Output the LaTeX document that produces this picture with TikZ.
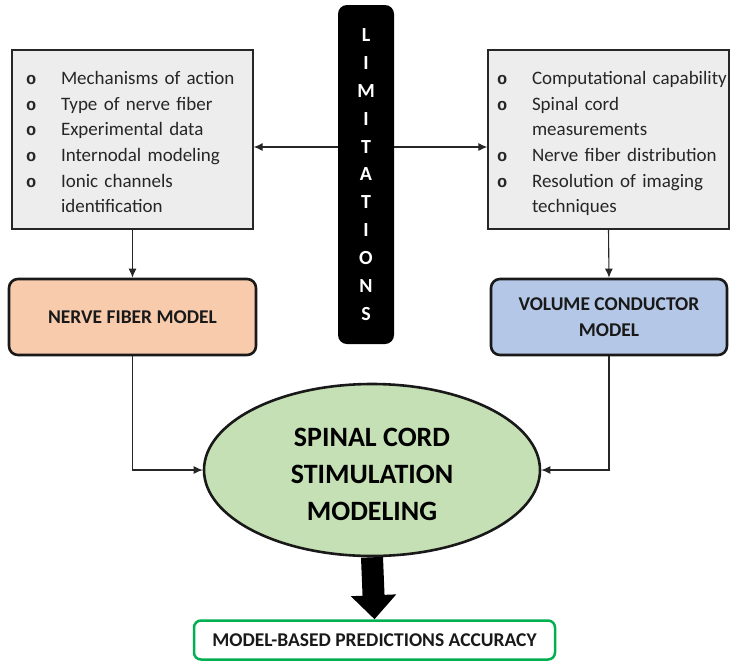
\documentclass[tikz,border=0pt]{standalone}
\usepackage{fontspec}
\setmainfont{Carlito}
\newfontfamily\bulfont{Liberation Mono}
\usetikzlibrary{shapes.geometric,arrows.meta}

\definecolor{listgray}{HTML}{EDEDED}
\definecolor{fiberorange}{HTML}{F8CBAD}
\definecolor{conductorblue}{HTML}{B4C7E7}
\definecolor{scsgreen}{HTML}{C5E0B4}
\definecolor{accgreen}{HTML}{00B050}

\newcommand{\bul}{{\bulfont\bfseries\fontsize{17}{17}\selectfont o}}

\tikzset{
  listbox/.style={draw=black!85, line width=1.3pt, fill=listgray, text=black!85,
    minimum width=241pt, minimum height=179pt, inner ysep=0pt, align=left,
    font=\fontsize{19}{25.7}\selectfont},
  modelbox/.style={draw=black!90, line width=2.6pt, rounded corners=9pt,
    minimum height=76pt, align=center, text=black!90,
    font=\bfseries\fontsize{19.5}{26}\selectfont},
  conn/.style={black!85, line width=1.1pt, -{Latex[length=9pt,width=8pt]}}
}

\begin{document}
\begin{tikzpicture}[x=1pt,y=-1pt]
    \useasboundingbox (0,0) rectangle (730,662);

    \node (listL) at (132.5,139.5) [listbox, inner xsep=14pt, text width=213pt] {%
      \begin{tabular}{@{}p{35pt}@{}l@{}}
        \bul & \rule{0pt}{26pt}Mechanisms of action\\
        \bul & Type of nerve fiber\\
        \bul & Experimental data\\
        \bul & Internodal modeling\\
        \bul & Ionic channels\\
             & identification
      \end{tabular}};
    \node (listR) at (608.5,139.5) [listbox, inner xsep=9pt, text width=223pt] {%
      \begin{tabular}{@{}p{35pt}@{}l@{}}
        \bul & \rule{0pt}{26pt}Computational capability\\
        \bul & Spinal cord\\
             & measurements\\
        \bul & Nerve fiber distribution\\
        \bul & Resolution of imaging\\
             & techniques
      \end{tabular}};

    \node (lim) at (366,174.5) [fill=black, rounded corners=9pt, minimum width=56pt,
      minimum height=339pt, text=white, align=center,
      font=\bfseries\fontsize{20}{27.9}\selectfont]
      {L\\I\\M\\I\\T\\A\\T\\I\\O\\N\\S};

    \node (nfm) at (132.5,317) [modelbox, fill=fiberorange, minimum width=247pt]
      {NERVE FIBER MODEL};
    \node (vcm) at (609,317) [modelbox, fill=conductorblue, minimum width=236pt]
      {VOLUME CONDUCTOR\\MODEL};

    \node (scs) at (372,470) [ellipse, draw=black!90, line width=2.6pt, fill=scsgreen,
      minimum width=336pt, minimum height=172pt, inner sep=0pt, align=center,
      font=\bfseries\fontsize{28}{37}\selectfont]
      {\rule{0pt}{28pt}SPINAL CORD\\STIMULATION\\MODELING};

    \node (acc) at (374.5,640) [draw=accgreen, line width=2.5pt, rounded corners=7pt,
      minimum width=361pt, minimum height=39pt, text=black!90,
      font=\bfseries\fontsize{19.5}{22}\selectfont]
      {MODEL-BASED PREDICTIONS ACCURACY};

    \coordinate (limrow) at (366,147);
    \draw[conn] (lim.west |- limrow) -- (listL.east |- limrow);
    \draw[conn] (lim.east |- limrow) -- (listR.west |- limrow);

    \draw[conn] (listL.south) -- (nfm.north);
    \draw[conn] (listR.south) -- (vcm.north);

    \draw[conn] (nfm.south) |- (scs.west);
    \draw[conn] (vcm.south) |- (scs.east);

    \draw[line width=22pt, -{Triangle[width=44pt,length=24pt]}] (scs.south) -- (acc.north);
\end{tikzpicture}
\end{document}
